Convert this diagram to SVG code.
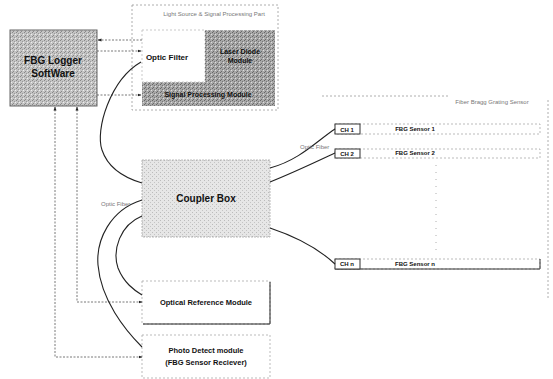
<svg xmlns="http://www.w3.org/2000/svg" width="553" height="379" viewBox="0 0 553 379">
<defs>
<pattern id="noise" width="4" height="4" patternUnits="userSpaceOnUse">
<rect width="4" height="4" fill="#c4c4c4"/>
<rect x="0" y="0" width="1" height="1" fill="#888"/>
<rect x="2" y="1" width="1" height="1" fill="#999"/>
<rect x="1" y="3" width="1" height="1" fill="#8a8a8a"/>
<rect x="3" y="2" width="1" height="1" fill="#eee"/>
</pattern>
<pattern id="noiseDark" width="4" height="4" patternUnits="userSpaceOnUse">
<rect width="4" height="4" fill="#a8a8a8"/>
<rect x="0" y="0" width="1" height="1" fill="#666"/>
<rect x="2" y="1" width="1" height="1" fill="#777"/>
<rect x="1" y="3" width="1" height="1" fill="#6a6a6a"/>
<rect x="3" y="2" width="1" height="1" fill="#ddd"/>
</pattern>
<pattern id="noiseLight" width="4" height="4" patternUnits="userSpaceOnUse">
<rect width="4" height="4" fill="#e6e6e6"/>
<rect x="0" y="0" width="1" height="1" fill="#bbb"/>
<rect x="2" y="2" width="1" height="1" fill="#c4c4c4"/>
</pattern>
<marker id="ah" viewBox="0 0 8 8" refX="7" refY="4" markerWidth="5" markerHeight="5" orient="auto-start-reverse">
<path d="M0,1 L8,4 L0,7 z" fill="#222"/>
</marker>
</defs>
<style>
.lbl{font-family:"Liberation Sans",Arial,sans-serif;font-weight:bold;fill:#111;text-anchor:middle}
.small{font-family:"Liberation Sans",Arial,sans-serif;fill:#777;font-size:6px}
.dash{fill:none;stroke:#999;stroke-width:0.8;stroke-dasharray:2 2}
.arrow{fill:none;stroke:#555;stroke-width:0.8;stroke-dasharray:2 1.5}
.fiber{fill:none;stroke:#222;stroke-width:1.1}
.ch{fill:#fff;stroke:#333;stroke-width:1}
.bar{fill:none;stroke:#aaa;stroke-width:0.8;stroke-dasharray:2 2}
</style>
<rect width="553" height="379" fill="#fff"/>

<g id="light-source-part">
<rect x="132" y="5" width="146" height="105" class="dash"/>
<text x="214" y="16" class="small" text-anchor="middle" font-size="7">Light Source &amp; Signal Processing Part</text>
</g>

<g id="fbg-logger">
<rect x="10" y="30" width="87" height="76" fill="url(#noise)" stroke="#666" stroke-width="1"/>
<text x="53" y="64" class="lbl" font-size="10">FBG Logger</text>
<text x="53" y="77" class="lbl" font-size="10">SoftWare</text>
</g>

<g id="optic-filter">
<rect x="142" y="30" width="63" height="52" fill="#fff" stroke="#bbb" stroke-width="0.8" stroke-dasharray="2 2"/>
<text x="167" y="60" class="lbl" font-size="8">Optic Filter</text>
</g>

<g id="laser-diode">
<rect x="205" y="30" width="70" height="52" fill="url(#noiseDark)"/>
<text x="240" y="54" class="lbl" font-size="7" fill="#000">Laser Diode</text>
<text x="240" y="63" class="lbl" font-size="7" fill="#000">Module</text>
</g>

<g id="signal-processing">
<rect x="142" y="82" width="133" height="24" fill="url(#noiseDark)"/>
<text x="208" y="97" class="lbl" font-size="7">Signal Processing Module</text>
</g>

<g id="coupler-box">
<rect x="142" y="160" width="128" height="77" fill="url(#noiseLight)" stroke="#aaa" stroke-width="0.8" stroke-dasharray="2 1"/>
<text x="206" y="202" class="lbl" font-size="10">Coupler Box</text>
</g>

<g id="optical-reference">
<rect x="142" y="281" width="128" height="43" fill="#fff" stroke="#aaa" stroke-width="0.8" stroke-dasharray="2 2"/>
<path d="M270,282 V324 H143" fill="none" stroke="#222" stroke-width="1"/>
<text x="206" y="305" class="lbl" font-size="7.5">Optical Reference Module</text>
</g>

<g id="photo-detect">
<rect x="142" y="335" width="128" height="43" fill="#fff" stroke="#aaa" stroke-width="0.8" stroke-dasharray="2 2"/>
<text x="206" y="353" class="lbl" font-size="7.5">Photo Detect module</text>
<text x="206" y="365" class="lbl" font-size="7.5">(FBG Sensor Reciever)</text>
</g>

<g id="sensor-area">
<path d="M322,96 H450 M548,100 V300" class="dash"/>
<text x="492" y="104" class="small" text-anchor="middle" font-size="6.5">Fiber Bragg Grating Sensor</text>
<path d="M436,165 V250" fill="none" stroke="#999" stroke-width="0.8" stroke-dasharray="1 6"/>
</g>

<g id="sensor-1">
<rect x="335" y="124" width="205" height="10" class="bar"/>
<rect x="335" y="124" width="25" height="10" class="ch"/>
<text x="347" y="132" class="lbl" font-size="6">CH 1</text>
<text x="415" y="131" class="lbl" font-size="6">FBG Sensor 1</text>
</g>

<g id="sensor-2">
<rect x="335" y="149" width="205" height="9" class="bar"/>
<rect x="335" y="149" width="25" height="9" class="ch"/>
<text x="347" y="156" class="lbl" font-size="6">CH 2</text>
<text x="415" y="155" class="lbl" font-size="6">FBG Sensor 2</text>
</g>

<g id="sensor-n">
<rect x="335" y="259" width="205" height="10" class="bar"/>
<path d="M335,269 H540 V259" fill="none" stroke="#333" stroke-width="1"/>
<rect x="335" y="259" width="25" height="10" class="ch"/>
<text x="347" y="266" class="lbl" font-size="6">CH n</text>
<text x="415" y="266" class="lbl" font-size="6">FBG Sensor n</text>
</g>

<g id="connectors">
<path d="M142,40 H98" class="arrow" marker-end="url(#ah)"/>
<path d="M97,51 H141" class="arrow" marker-end="url(#ah)"/>
<path d="M97,95 H141" class="arrow" marker-end="url(#ah)"/>
<path d="M142,357 H55 V107" class="arrow" marker-start="url(#ah)" marker-end="url(#ah)"/>
<path d="M142,302 H77 V107" class="arrow" marker-start="url(#ah)" marker-end="url(#ah)"/>
<path d="M141,62 C110,80 95,130 102,150 C108,168 125,178 142,183" class="fiber" stroke-width="0.9"/>
<path d="M142,200 C110,210 96,240 98,265 C101,300 125,330 142,347" class="fiber" stroke-width="0.9"/>
<path d="M142,216 C120,225 112,250 118,268 C124,283 134,290 142,295" class="fiber" stroke-width="0.9"/>
<path d="M270,168 C300,160 318,140 335,129" class="fiber"/>
<path d="M270,182 C295,172 320,160 335,153" class="fiber"/>
<path d="M270,228 C300,238 320,250 335,264" class="fiber"/>
<text x="300" y="149" class="small" font-size="5.5">Optic Fiber</text>
<text x="101" y="206" class="small" font-size="5.5">Optic Fiber</text>
</g>
</svg>
